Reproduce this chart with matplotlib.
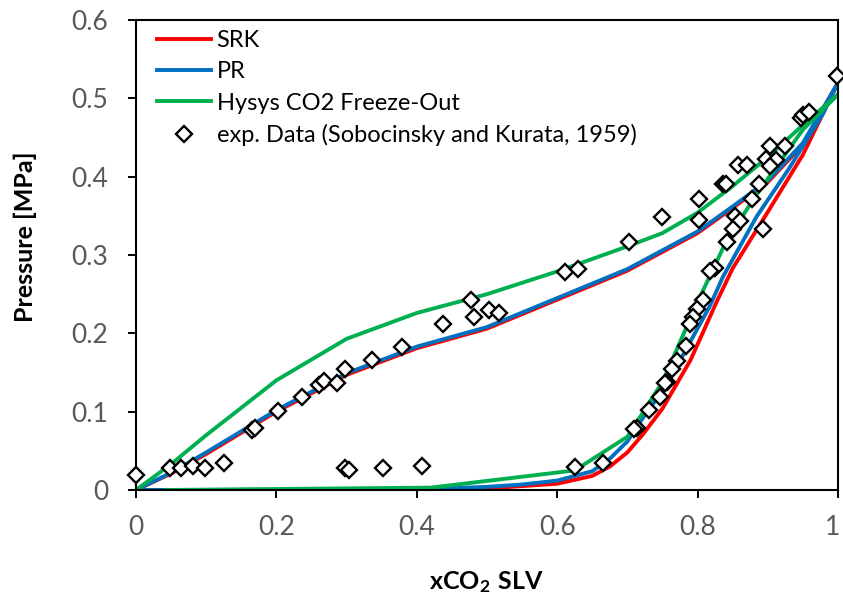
import numpy as np
import matplotlib
matplotlib.use("Agg")
import matplotlib.pyplot as plt
import matplotlib.transforms as mtransforms

plt.rcParams['font.family'] = ['Lato', 'DejaVu Sans']
plt.rcParams['mathtext.fontset'] = 'custom'
plt.rcParams['mathtext.bf'] = 'Lato:bold'
plt.rcParams['mathtext.rm'] = 'Lato'

# SRK model (upper = dew branch, lower = bubble branch)
srk_up_x = [0, 0.05, 0.1, 0.2, 0.3, 0.4, 0.5, 0.6, 0.7, 0.8, 0.85, 0.9, 0.95, 1.0]
srk_up_y = [0, 0.021, 0.046, 0.100, 0.147, 0.181, 0.206, 0.243, 0.280, 0.328, 0.360, 0.393, 0.441, 0.52]
srk_lo_x = [0, 0.3, 0.4, 0.5, 0.6, 0.65, 0.675, 0.7, 0.722, 0.75, 0.77, 0.79, 0.827, 0.85, 0.9, 0.95, 1.0]
srk_lo_y = [0, 0.0002, 0.0005, 0.002, 0.008, 0.018, 0.030, 0.048, 0.071, 0.104, 0.135, 0.166, 0.240, 0.283, 0.355, 0.428, 0.52]

# PR model
pr_up_x = [0, 0.05, 0.1, 0.2, 0.3, 0.4, 0.5, 0.6, 0.7, 0.8, 0.85, 0.9, 0.95, 1.0]
pr_up_y = [0, 0.022, 0.048, 0.102, 0.149, 0.183, 0.208, 0.245, 0.282, 0.330, 0.362, 0.395, 0.443, 0.52]
pr_lo_x = [0, 0.3, 0.4, 0.5, 0.55, 0.6, 0.65, 0.675, 0.7, 0.722, 0.75, 0.77, 0.79, 0.817, 0.836, 0.884, 0.93, 0.979, 1.0]
pr_lo_y = [0, 0.0003, 0.001, 0.004, 0.007, 0.012, 0.024, 0.040, 0.062, 0.092, 0.127, 0.157, 0.190, 0.234, 0.272, 0.349, 0.410, 0.481, 0.52]

# Hysys CO2 Freeze-Out
hy_up_x = [0, 0.05, 0.1, 0.2, 0.3, 0.4, 0.5, 0.6, 0.7, 0.75, 0.8, 0.85, 0.9, 0.95, 1.0]
hy_up_y = [0, 0.033, 0.070, 0.140, 0.193, 0.226, 0.250, 0.279, 0.311, 0.328, 0.354, 0.388, 0.425, 0.466, 0.505]
hy_lo_x = [0.044, 0.42, 0.625, 0.70, 0.75, 0.80, 0.82, 0.84, 0.88, 0.91, 0.95, 1.0]
hy_lo_y = [0, 0.003, 0.025, 0.068, 0.138, 0.240, 0.278, 0.316, 0.372, 0.410, 0.460, 0.505]

# experimental data (Sobocinsky and Kurata, 1959)
exp_x = [0.000, 0.049, 0.064, 0.081, 0.099, 0.126, 0.165, 0.170, 0.202, 0.237,
         0.261, 0.268, 0.286, 0.298, 0.298, 0.304, 0.336, 0.352, 0.379, 0.407,
         0.438, 0.477, 0.481, 0.503, 0.517, 0.611, 0.630, 0.702, 0.749, 0.802,
         0.802, 0.836, 0.840, 0.888, 0.878, 0.853, 0.861, 0.851, 0.842, 0.825,
         0.818, 0.808, 0.799, 0.794, 0.789, 0.783, 0.770, 0.764, 0.756, 0.753,
         0.747, 0.731, 0.713, 0.710, 0.665, 0.625, 0.893, 0.857, 0.871, 0.897,
         0.903, 0.912, 0.903, 0.924, 0.948, 0.950, 0.958, 0.998]
exp_y = [0.019, 0.028, 0.028, 0.031, 0.028, 0.035, 0.077, 0.079, 0.101, 0.119,
         0.134, 0.139, 0.136, 0.155, 0.028, 0.026, 0.166, 0.028, 0.183, 0.031,
         0.212, 0.242, 0.221, 0.230, 0.226, 0.278, 0.282, 0.317, 0.349, 0.372,
         0.345, 0.391, 0.391, 0.391, 0.371, 0.350, 0.344, 0.333, 0.317, 0.283,
         0.279, 0.243, 0.231, 0.221, 0.212, 0.184, 0.165, 0.154, 0.138, 0.136,
         0.119, 0.102, 0.079, 0.078, 0.034, 0.030, 0.333, 0.415, 0.415, 0.422,
         0.439, 0.421, 0.414, 0.439, 0.475, 0.479, 0.483, 0.528]

red = '#FF0000'
blue = '#0070C0'
green = '#00B050'
lw = 2.8

fig = plt.figure(figsize=(8.43, 5.98), dpi=100)
ax = fig.add_axes([136/843, 1-490/598, 702/843, 470/598])

ax.plot(srk_up_x, srk_up_y, color=red, lw=lw, label='SRK')
ax.plot(srk_lo_x, srk_lo_y, color=red, lw=lw)
ax.plot(pr_up_x, pr_up_y, color=blue, lw=lw, label='PR')
ax.plot(pr_lo_x, pr_lo_y, color=blue, lw=lw)
ax.plot(hy_up_x, hy_up_y, color=green, lw=lw, label='Hysys CO2 Freeze-Out')
ax.plot(hy_lo_x, hy_lo_y, color=green, lw=lw)
ax.plot(exp_x, exp_y, ls='none', marker='D', ms=8, mfc='white', mec='black',
        mew=1.7, label='exp. Data (Sobocinsky and Kurata, 1959)', clip_on=False, zorder=5)

ax.set_xlim(0, 1)
ax.set_ylim(0, 0.6)
ax.set_xticks([0, 0.2, 0.4, 0.6, 0.8, 1])
ax.set_xticklabels(['0', '0.2', '0.4', '0.6', '0.8', '1'])
ax.set_yticks([0, 0.1, 0.2, 0.3, 0.4, 0.5, 0.6])
ax.set_yticklabels(['0', '0.1', '0.2', '0.3', '0.4', '0.5', '0.6'])
ax.tick_params(direction='out', length=6, width=1.4, colors='black',
               labelcolor='#595959', labelsize=19)
ax.tick_params(axis='y', pad=14)
ax.tick_params(axis='x', pad=12)
for s in ax.spines.values():
    s.set_linewidth(1.5)
    s.set_color('black')

# keep the "1" label inside the figure edge
last = ax.get_xticklabels()[-1]
last.set_transform(last.get_transform() +
                   mtransforms.ScaledTranslation(-5/100, 0, fig.dpi_scale_trans))

ax.set_xlabel(r'$\mathbf{xCO_2\ SLV}$', fontsize=18)
ax.xaxis.set_label_coords(0.5, -0.168)
ax.set_ylabel('Pressure [MPa]', fontsize=18, fontweight='bold', va='center')
ax.yaxis.set_label_coords(-0.157, 0.54)

ax.legend(loc='upper left', bbox_to_anchor=(0.03, 0.979), frameon=False,
          fontsize=17, handlelength=2.3, handletextpad=0.22, labelspacing=0.44,
          borderpad=0, borderaxespad=0)

fig.savefig('out.png', dpi=100)
